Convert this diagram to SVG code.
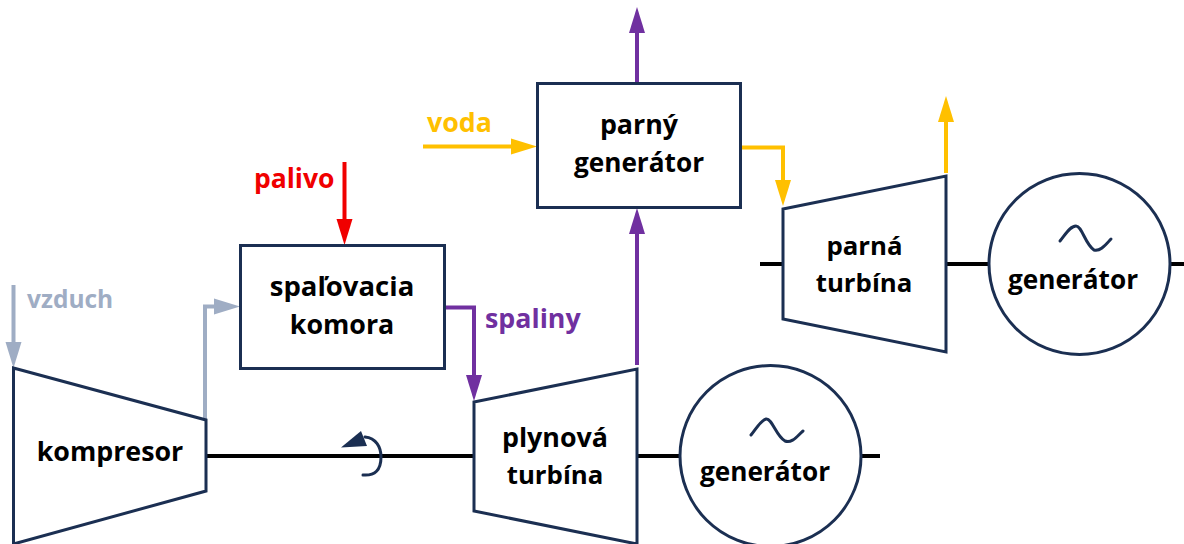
<svg xmlns="http://www.w3.org/2000/svg" width="1184" height="544" viewBox="0 0 1184 544">
<style>
.n{fill:#fff;stroke:#1b2f52;stroke-width:3}
.t{font:700 26.800px "Open Sans","Noto Sans",sans-serif;text-anchor:middle;fill:#000}
.l{font:700 26.800px "Open Sans","Noto Sans",sans-serif}
.g{font-size:26.200px}
.u{font-size:25.800px}
.s{fill:none;stroke:#000;stroke-width:4}
.w{fill:none;stroke:#1b2f52;stroke-width:3;stroke-linecap:round}
.c{fill:none;stroke-width:4}
.a{stroke:#9fadc4}.r{stroke:#f00000}.p{stroke:#7030a0}.y{stroke:#ffc000}
</style>
<g id="connectors">
<path class="s" d="M206 456H474M637 456H680M861 456H880M760 264H783M946 264H989M1170 264H1184"/>
<path class="c a" d="M13.500 285V342"/><path d="M5.500 342H21.500L13.500 368Z" fill="#9fadc4"/>
<path class="c a" d="M205 419V306.500H214"/><path d="M214 298.500V314.500L240 306.500Z" fill="#9fadc4"/>
<path class="c r" d="M344.500 162V219"/><path d="M336.500 219H352.500L344.500 245Z" fill="#f00000"/>
<path class="c p" d="M444 307.500H474V375"/><path d="M466 375H482L474 401Z" fill="#7030a0"/>
<path class="c p" d="M637 365V234"/><path d="M629 234H645L637 208Z" fill="#7030a0"/>
<path class="c p" d="M637 83V33"/><path d="M629 33H645L637 7Z" fill="#7030a0"/>
<path class="c y" d="M423 146.500H511"/><path d="M511 138.500V154.500L537 146.500Z" fill="#ffc000"/>
<path class="c y" d="M738 147.500H783V180"/><path d="M775 180H791L783 206Z" fill="#ffc000"/>
<path class="c y" d="M946 173V122"/><path d="M938 122H954L946 96Z" fill="#ffc000"/>
</g>
<g id="kompresor"><path class="n" d="M13.500 368L206 420V491L13.500 544Z"/><text class="t" x="110" y="461">kompresor</text></g>
<g id="spalovacia-komora"><rect class="n" x="240.500" y="245.500" width="204" height="123"/><text class="t" x="342" y="296" style="font-size:27.500px">spaľovacia</text><text class="t" x="342" y="334">komora</text></g>
<g id="plynova-turbina"><path class="n" d="M474 402L637 369V544L474 511Z"/><text class="t" x="555" y="447">plynová</text><text class="t u" x="555" y="484">turbína</text></g>
<g id="generator-1"><circle class="n" cx="770.500" cy="456" r="90.500"/><path class="w" d="M751 435C756 429 761 420 766 419C772 418 776 436 785 441C792 444 798 435 803 431"/><text class="t g" x="765" y="481">generátor</text></g>
<g id="parny-generator"><rect class="n" x="537.500" y="83.500" width="203" height="124"/><text class="t" x="639" y="134">parný</text><text class="t g" x="639" y="172">generátor</text></g>
<g id="parna-turbina"><path class="n" d="M783 209L946 176V352L783 319Z"/><text class="t u" x="864.500" y="255">parná</text><text class="t u" x="864" y="292">turbína</text></g>
<g id="generator-2"><circle class="n" cx="1079.500" cy="264" r="90.500"/><path class="w" d="M1060 241C1065 235 1070 226 1076 226C1082 226 1085 244 1094 250C1101 252 1107 243 1111 239"/><text class="t g" x="1073" y="289">generátor</text></g>
<g id="labels">
<text class="l" x="27" y="308" fill="#9fadc4" style="font-size:24.500px">vzduch</text>
<text class="l" x="254" y="188" fill="#f00000" style="font-size:26.500px">palivo</text>
<text class="l" x="485" y="328" fill="#7030a0">spaliny</text>
<text class="l" x="427" y="132" fill="#ffc000">voda</text>
</g>
<g id="rotation"><path class="w" d="M363 475C375 476 381 470 381 457C381 447 376 438 365 437"/><path d="M341 447.500L361 431L367 446Z" fill="#1b2f52"/></g>
</svg>
